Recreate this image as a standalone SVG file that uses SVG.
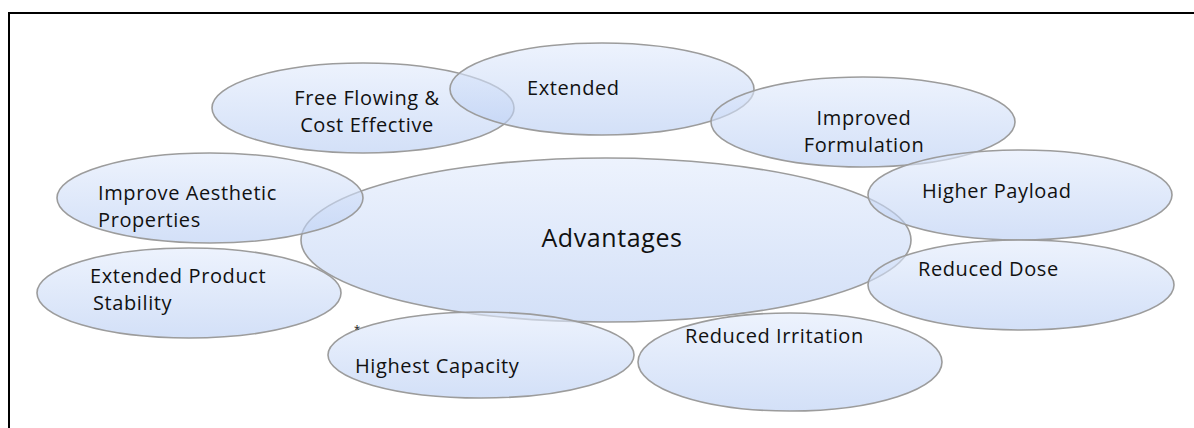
<svg xmlns="http://www.w3.org/2000/svg" width="1194" height="428" viewBox="0 0 1194 428">
<defs>
<linearGradient id="g" x1="0" y1="0" x2="0" y2="1">
<stop offset="0" stop-color="rgb(226,235,252)"/>
<stop offset="1" stop-color="rgb(184,205,243)"/>
</linearGradient>
<style>
.n{fill:url(#g);fill-opacity:0.62;stroke:#9c9c9c;stroke-width:1.6}
.t{font-family:"Open Sans","Liberation Sans",sans-serif;font-size:20px;fill:#111;letter-spacing:0.6px}
.big{font-size:25px}
.m{text-anchor:middle}
</style>
</defs>
<rect width="1194" height="428" fill="#fff"/>
<path d="M9 428V13H1194" fill="none" stroke="#000" stroke-width="2"/>
<g id="connectors"/>
<g id="advantages"><ellipse class="n" cx="606" cy="240" rx="305" ry="82"/><text class="t big m" x="612" y="247">Advantages</text></g>
<g id="free-flowing"><ellipse class="n" cx="363" cy="108" rx="151" ry="45"/><text class="t m" x="367" y="105">Free Flowing &amp;</text><text class="t m" x="367" y="132">Cost Effective</text></g>
<g id="extended"><ellipse class="n" cx="602" cy="89" rx="152" ry="46"/><text class="t" x="527" y="95">Extended</text></g>
<g id="improved-formulation"><ellipse class="n" cx="863" cy="122" rx="152" ry="45"/><text class="t m" x="864" y="125">Improved</text><text class="t m" x="864" y="152">Formulation</text></g>
<g id="higher-payload"><ellipse class="n" cx="1020" cy="195" rx="152" ry="45"/><text class="t" x="922" y="198">Higher Payload</text></g>
<g id="reduced-dose"><ellipse class="n" cx="1021" cy="285" rx="153" ry="45"/><text class="t" x="918" y="276">Reduced Dose</text></g>
<g id="reduced-irritation"><ellipse class="n" cx="790" cy="362" rx="152" ry="49"/><text class="t" x="685" y="343">Reduced Irritation</text></g>
<g id="highest-capacity"><ellipse class="n" cx="481" cy="355" rx="153" ry="43"/><text class="t" x="355" y="373">Highest Capacity</text><text class="t" x="354" y="333" style="font-size:11px;letter-spacing:0">*</text></g>
<g id="improve-aesthetic"><ellipse class="n" cx="210" cy="198" rx="153" ry="45"/><text class="t" x="98" y="200">Improve Aesthetic</text><text class="t" x="98" y="227">Properties</text></g>
<g id="extended-stability"><ellipse class="n" cx="189" cy="293" rx="152" ry="45"/><text class="t" x="90" y="283">Extended Product</text><text class="t" x="93" y="310">Stability</text></g>
</svg>
